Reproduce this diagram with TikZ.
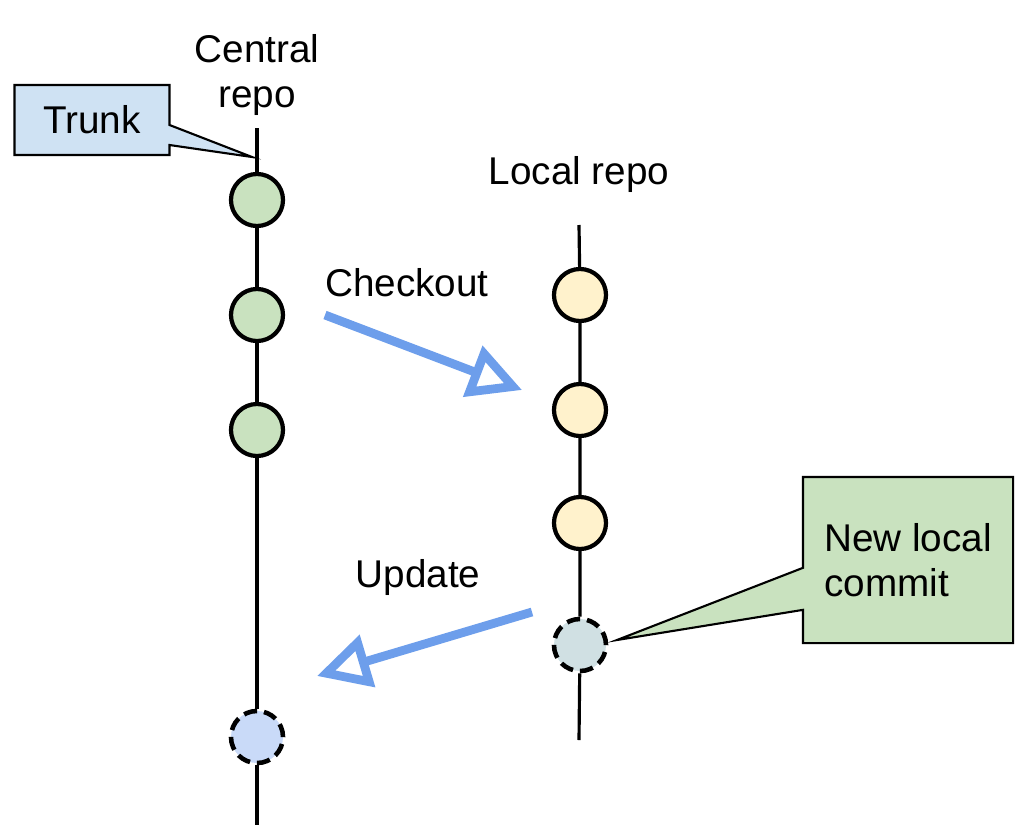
\documentclass[tikz,border=0pt]{standalone}
\usepackage{fontspec}
\setmainfont{Liberation Sans}
\usetikzlibrary{arrows.meta,shapes.callouts}
\definecolor{trunkblue}{HTML}{CFE2F3}
\definecolor{commitgreen}{HTML}{C9E2BF}
\definecolor{localyellow}{HTML}{FFF2CC}
\definecolor{newgray}{HTML}{D0E0E3}
\definecolor{mergedblue}{HTML}{C9DAF8}
\definecolor{flowblue}{HTML}{6D9EEB}

\begin{document}
\begin{tikzpicture}[x=0.01cm, y=-0.01cm,
  font=\fontsize{11}{12.8}\selectfont,
  commit/.style = {circle, draw=black, line width=1.2pt, minimum size=0.52cm, inner sep=0pt},
  newcommit/.style = {commit, line width=1.3pt, dash pattern=on 3.8pt off 2pt},
  branch/.style = {line width=0.9pt, black},
  flow/.style = {line width=2.5pt, flowblue, -{Triangle[open, length=15pt, width=15pt]}},
  note/.style = {rectangle callout, draw=black, line width=0.6pt}]
  \useasboundingbox (0,0) rectangle (1024,833);

  % central repo
  \node [align=center] (central) at (257,75) {Central\\repo};
  \coordinate (ctop) at (257,128);
  \coordinate (cbot) at (257,825);
  \node [commit, fill=commitgreen] (c1) at (257,200) {};
  \node [commit, fill=commitgreen] (c2) at (257,315) {};
  \node [commit, fill=commitgreen] (c3) at (257,430) {};
  \node [newcommit, fill=mergedblue] (c4) at (257,737) {};
  \draw [branch] (ctop)--(c1)--(c2)--(c3)--(c4)--(cbot);

  % local repo
  \node (local) at (579,174) {Local repo};
  \coordinate (ltop) at (579,225);
  \coordinate (lbot) at (579,740);
  \node [commit, fill=localyellow] (l1) at (580,295) {};
  \node [commit, fill=localyellow] (l2) at (580,410) {};
  \node [commit, fill=localyellow] (l3) at (580,523) {};
  \node [newcommit, fill=newgray] (l4) at (580,645) {};
  \draw [branch] (ltop)--(l1)--(l2)--(l3)--(l4)--(lbot);

  % checkout / update
  \node (checkout) at (407,283) {Checkout};
  \coordinate (cofrom) at (325,315);
  \coordinate (coto) at (522,390);
  \draw [flow] (cofrom)--(coto);
  \node (update) at (418,577) {Update};
  \coordinate (upfrom) at (532,612);
  \coordinate (upto) at (317,676);
  \draw [flow] (upfrom)--(upto);

  % callouts
  \coordinate (trunktip) at (252,157);
  \node [note, fill=trunkblue, minimum width=1.55cm, minimum height=0.7cm,
    callout absolute pointer={(trunktip)}, callout pointer width=0.2cm] (trunk) at (92,120) {Trunk};
  \coordinate (newtip) at (617,640);
  \node [note, fill=commitgreen, minimum width=2.1cm, minimum height=1.66cm, align=left,
    callout absolute pointer={(newtip)}, callout pointer width=0.42cm] (newlocal) at (908,560) {New local\\commit};
\end{tikzpicture}
\end{document}
